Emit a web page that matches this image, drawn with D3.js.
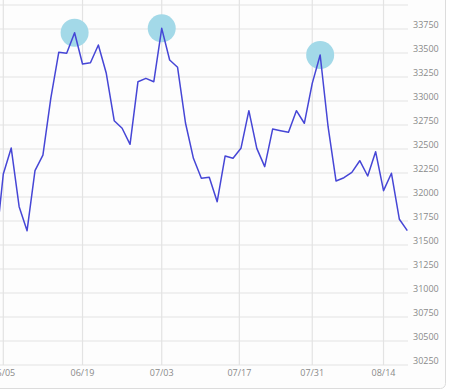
<!DOCTYPE html>
<html>
<head>
<meta charset="utf-8">
<script src="https://cdn.jsdelivr.net/npm/d3@7"></script>
<style>
  body { margin: 0; background: #fff; }
  .grid line { stroke: #e3e3e3; stroke-width: 1.2; }
  .axis-text { font-family: "Open Sans", sans-serif; font-size: 9px; fill: #8a8a8a; }
</style>
</head>
<body>
<div id="chart"></div>
<script>
// price per trading day, first one sits just left of the visible area
const prices = [31448, 32240, 32510, 31899, 31649, 32274, 32437, 33031, 33507, 33497,
  33711, 33385, 33399, 33583, 33289, 32795, 32716, 32549, 33201, 33236,
  33201, 33757, 33427, 33351, 32771, 32403, 32195, 32205, 31951, 32427,
  32403, 32507, 32899, 32507, 32316, 32708, 32691, 32674, 32899, 32768,
  33184, 33479, 32732, 32167, 32201, 32257, 32378, 32219, 32472, 32066,
  32247, 31768, 31649];
const firstIndex = -1;

// peaks that get a highlight bubble (index into the day axis)
const peaks = [9, 20, 40];

const dateLabels = ["06/05", "06/19", "07/03", "07/17", "07/31", "08/14"];
const dateIndex = [0, 10, 20, 29.8, 39, 48];

const yTicks = [34000, 33750, 33500, 33250, 33000, 32750, 32500, 32250, 32000,
  31750, 31500, 31250, 31000, 30750, 30500, 30250];

const width = 450;
const height = 391;

const svg = d3.select("#chart").append("svg")
  .attr("width", width)
  .attr("height", height);

// outer frame of the widget
svg.append("rect")
  .attr("x", -6).attr("y", -6)
  .attr("width", 451.5).attr("height", 394.5)
  .attr("rx", 5)
  .attr("fill", "#fdfdfd")
  .attr("stroke", "#dcdcdc");

const x = d3.scaleLinear().domain([0, 51]).range([3.3, 407.3]);
const y = d3.scaleLinear().domain([30250, 34000]).range([365, 5]);

const data = prices.map((v, i) => ({ i: i + firstIndex, v: v }));

const plotRight = 408;
const plotBottom = 365;

// grid
const grid = svg.append("g").attr("class", "grid");
grid.selectAll(".h")
  .data(yTicks)
  .enter().append("line")
  .attr("x1", 0).attr("x2", plotRight)
  .attr("y1", d => y(d)).attr("y2", d => y(d));
grid.selectAll(".v")
  .data(dateIndex)
  .enter().append("line")
  .attr("x1", d => x(d)).attr("x2", d => x(d))
  .attr("y1", 0).attr("y2", plotBottom);

// y labels, sitting just above their grid line
svg.selectAll(".ylab")
  .data(yTicks.slice(1))
  .enter().append("text")
  .attr("class", "axis-text")
  .attr("x", 413)
  .attr("y", d => y(d) - 1.5)
  .text(d => d);

// x labels
svg.selectAll(".xlab")
  .data(dateLabels)
  .enter().append("text")
  .attr("class", "axis-text")
  .attr("text-anchor", "middle")
  .attr("x", (d, k) => x(dateIndex[k]))
  .attr("y", 376)
  .text(d => d);

svg.append("clipPath").attr("id", "plot")
  .append("rect").attr("x", 0).attr("y", 0)
  .attr("width", plotRight).attr("height", plotBottom);

const plot = svg.append("g").attr("clip-path", "url(#plot)");

// highlight bubbles
plot.selectAll(".peak")
  .data(data.filter(d => peaks.includes(d.i)))
  .enter().append("circle")
  .attr("cx", d => x(d.i))
  .attr("cy", d => y(d.v))
  .attr("r", 14)
  .attr("fill", "#a3d9e8");

const line = d3.line()
  .x(d => x(d.i))
  .y(d => y(d.v));

plot.append("path")
  .datum(data)
  .attr("d", line)
  .attr("fill", "none")
  .attr("stroke", "#4646d6")
  .attr("stroke-width", 1.5)
  .attr("stroke-linejoin", "round");
</script>
</body>
</html>
